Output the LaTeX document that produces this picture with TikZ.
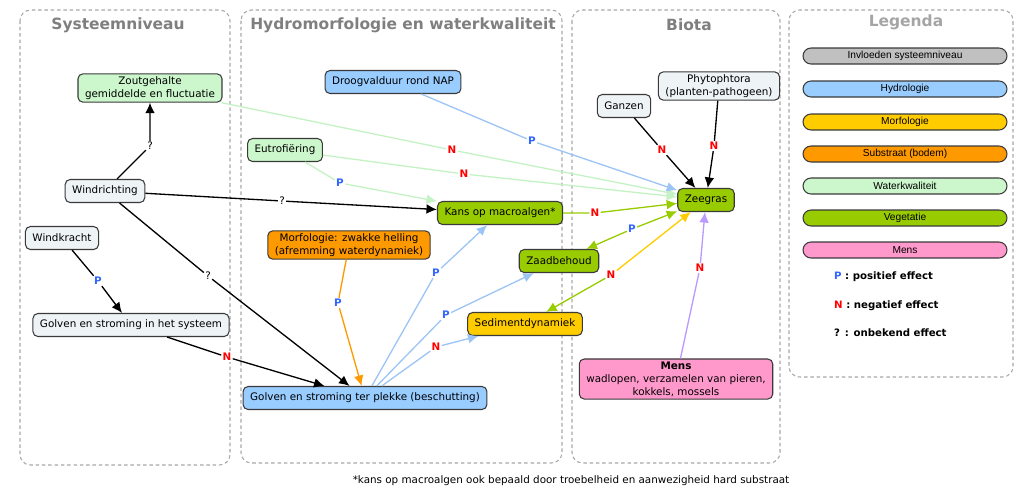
\documentclass[tikz,border=0pt]{standalone}
\usepackage{fontspec}
\setmainfont{DejaVu Sans}
\newfontfamily\legfont{Liberation Sans}
\usetikzlibrary{arrows.meta}

\definecolor{lightbox}{HTML}{EEF3F5}
\definecolor{waterq}{HTML}{CCF7CC}
\definecolor{hydro}{HTML}{99CCFF}
\definecolor{morfo}{HTML}{FFCC00}
\definecolor{subst}{HTML}{FF9900}
\definecolor{veget}{HTML}{99CC00}
\definecolor{mens}{HTML}{FF99CC}
\definecolor{sysgray}{HTML}{C0C0C0}
\definecolor{boxline}{HTML}{3A3A3A}
\definecolor{grpline}{HTML}{A8A8A8}
\definecolor{titlegray}{HTML}{7F7F7F}
\definecolor{poscol}{HTML}{3366FF}
\definecolor{negcol}{HTML}{FF0000}
\definecolor{hydroline}{HTML}{9CC4F5}
\definecolor{waterline}{HTML}{C4F2C4}
\definecolor{purline}{HTML}{BB99FF}

\def\nodefont{\fontsize{5.9}{7.4}\selectfont}

\tikzset{
	box/.style={draw=boxline, line width=0.6pt, rounded corners=2.8pt, inner xsep=4pt, inner ysep=1.5pt,
		minimum height=0.46cm, align=center, font=\nodefont, text=black},
	grp/.style={draw=grpline, line width=0.6pt, dash pattern=on 2pt off 1.6pt, rounded corners=6pt},
	grptitle/.style={font=\fontsize{8.8}{10}\selectfont\bfseries, text=titlegray},
	legbar/.style={draw=boxline, line width=0.6pt, rounded corners=0.16cm, minimum width=4.08cm,
		minimum height=0.32cm, inner sep=0pt, font=\legfont\fontsize{5.8}{6.5}\selectfont},
	plab/.style={fill=white, inner sep=0.6pt, text=poscol, font=\nodefont\bfseries},
	nlab/.style={fill=white, inner sep=0.6pt, text=negcol, font=\nodefont\bfseries},
	qlab/.style={fill=white, inner sep=0.6pt, text=black, font=\nodefont},
	conn/.style={line width=0.75pt, -{Latex[length=6pt,width=5.5pt]}},
}

\begin{document}
\begin{tikzpicture}[x=0.02cm, y=-0.02cm]
		%%%%% START %%%%%
		\useasboundingbox (0, 0) rectangle (1024, 498);
		
		% groups
		\draw[grp] (20, 10) rectangle (230, 465);
		\draw[grp] (241, 10) rectangle (562, 463);
		\draw[grp] (572, 10) rectangle (780, 463);
		\draw[grp] (789, 10) rectangle (1013, 377);
		\node[grptitle] (tsys) at (118, 25) {Systeemniveau};
		\node[grptitle] (thyd) at (403, 25) {Hydromorfologie en waterkwaliteit};
		\node[grptitle] (tbio) at (689, 25) {Biota};
		\node[grptitle, text=titlegray!70] (tleg) at (906, 22) {Legenda};
		
		% systeemniveau
		\node[box, fill=waterq] (zout) at (150, 88) {Zoutgehalte\\gemiddelde en fluctuatie};
		\node[box, fill=lightbox] (wrich) at (105, 191) {Windrichting};
		\node[box, fill=lightbox] (wkracht) at (62, 238) {Windkracht};
		\node[box, fill=lightbox] (golfsys) at (131, 325) {Golven en stroming in het systeem};
		
		% hydromorfologie en waterkwaliteit
		\node[box, fill=hydro] (droog) at (393, 82) {Droogvalduur rond NAP};
		\node[box, fill=waterq] (eutro) at (285, 150) {Eutrofiëring};
		\node[box, fill=veget] (kans) at (500, 213) {Kans op macroalgen*};
		\node[box, fill=subst] (morf) at (349, 245) {Morfologie: zwakke helling\\(afremming waterdynamiek)};
		\node[box, fill=veget] (zaad) at (559, 261) {Zaadbehoud};
		\node[box, fill=morfo] (sedi) at (525, 324) {Sedimentdynamiek};
		\node[box, fill=hydro] (golfplek) at (365, 398) {Golven en stroming ter plekke (beschutting)};
		
		% biota
		\node[box, fill=lightbox] (ganzen) at (624, 106) {Ganzen};
		\node[box, fill=lightbox] (phyto) at (719, 86) {Phytophtora\\(planten-pathogeen)};
		\node[box, fill=veget] (zee) at (706, 200) {Zeegras};
		\node[box, fill=mens] (mens) at (676, 379) {\textbf{Mens}\\wadlopen, verzamelen van pieren,\\kokkels, mossels};
		
		% labels on the connectors
		\node[qlab] (q1) at (150, 146) {?};
		\node[qlab] (q2) at (282, 201) {?};
		\node[qlab] (q3) at (208, 276) {?};
		\node[plab] (p1) at (98, 281) {P};
		\node[nlab] (n1) at (227, 357) {N};
		\node[nlab] (n2) at (452, 150) {N};
		\node[nlab] (n3) at (464, 174) {N};
		\node[plab] (p2) at (340, 183) {P};
		\node[plab] (p3) at (532, 141) {P};
		\node[nlab] (n4) at (595, 213) {N};
		\node[plab] (p4) at (632, 229) {P};
		\node[nlab] (n5) at (611, 275) {N};
		\node[plab] (p5) at (436, 273) {P};
		\node[plab] (p6) at (446, 315) {P};
		\node[nlab] (n6) at (436, 347) {N};
		\node[plab] (p7) at (338, 303) {P};
		\node[nlab] (n7) at (662, 150) {N};
		\node[nlab] (n8) at (714, 146) {N};
		\node[nlab] (n9) at (700, 268) {N};
		
		% connectors
		\draw[conn] (wrich) -- (q1) -- (zout);
		\draw[conn] (wrich) -- (q2) -- (kans);
		\draw[conn] (wrich) -- (q3) -- (golfplek);
		\draw[conn] (wkracht) -- (p1) -- (golfsys);
		\draw[conn] (golfsys) -- (n1) -- (golfplek);
		\draw[conn, waterline] (zout) -- (n2) -- (zee);
		\draw[conn, waterline] (eutro) -- (n3) -- (zee);
		\draw[conn, waterline] (eutro) -- (p2) -- (kans);
		\draw[conn, hydroline] (droog) -- (p3) -- (zee);
		\draw[conn, veget] (kans) -- (n4) -- (zee);
		\draw[conn, veget] (p4) -- (zee);
		\draw[conn, veget] (p4) -- (zaad);
		\draw[conn, morfo] (n5) -- (zee);
		\draw[conn, veget] (n5) -- (sedi);
		\draw[conn, hydroline] (golfplek) -- (p5) -- (kans);
		\draw[conn, hydroline] (golfplek) -- (p6) -- (zaad);
		\draw[conn, hydroline] (golfplek) -- (n6) -- (sedi);
		\draw[conn, subst] (morf) -- (p7) -- (golfplek);
		\draw[conn] (ganzen) -- (n7) -- (zee);
		\draw[conn] (phyto) -- (n8) -- (zee);
		\draw[conn, purline] (mens) -- (n9) -- (zee);
		
		% legenda
		\node[legbar, fill=sysgray] (lsys) at (905, 56) {Invloeden systeemniveau};
		\node[legbar, fill=hydro] (lhyd) at (905, 89) {Hydrologie};
		\node[legbar, fill=morfo] (lmor) at (905, 122) {Morfologie};
		\node[legbar, fill=subst] (lsub) at (905, 154) {Substraat (bodem)};
		\node[legbar, fill=waterq] (lwat) at (905, 186) {Waterkwaliteit};
		\node[legbar, fill=veget] (lveg) at (905, 218) {Vegetatie};
		\node[legbar, fill=mens] (lmen) at (905, 250) {Mens};
		\node[anchor=west, font=\fontsize{5.8}{7}\selectfont\bfseries] (lpos) at (828, 277) {\textcolor{poscol}{P} : positief effect};
		\node[anchor=west, font=\fontsize{5.8}{7}\selectfont\bfseries] (lneg) at (828, 306) {\textcolor{negcol}{N} : negatief effect};
		\node[anchor=west, font=\fontsize{5.8}{7}\selectfont\bfseries] (lonb) at (828, 333) {? : onbekend effect};
		
		% voetnoot
		\node[font=\nodefont] (noot) at (571, 481) {*kans op macroalgen ook bepaald door troebelheid en aanwezigheid hard substraat};
		%%%%% END %%%%%
	\end{tikzpicture}
\end{document}
